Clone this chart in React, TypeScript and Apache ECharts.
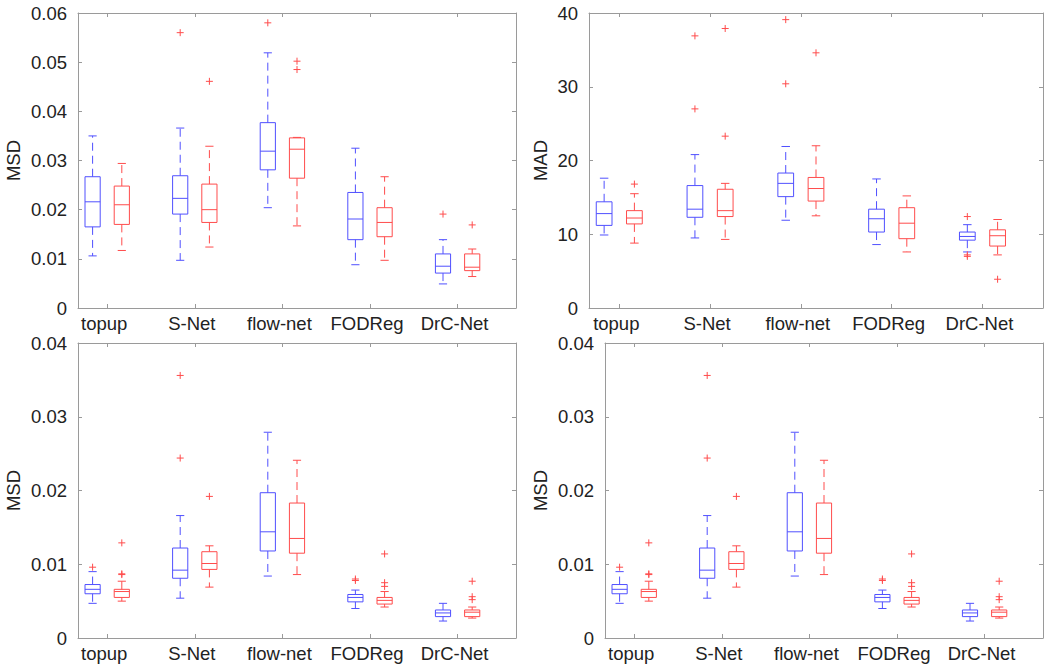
import React, { useEffect, useRef } from 'react';
import * as echarts from 'echarts';

const categories = ['topup', 'S-Net', 'flow-net', 'FODReg', 'DrC-Net'];

// Each box: [lower whisker, Q1, median, Q3, upper whisker]
const msdTopBlue = [
  [0.0106, 0.0165, 0.0216, 0.0267, 0.035],
  [0.0097, 0.0191, 0.0223, 0.0269, 0.0366],
  [0.0204, 0.0281, 0.0319, 0.0377, 0.0519],
  [0.0088, 0.0139, 0.0181, 0.0235, 0.0325],
  [0.0049, 0.0071, 0.0085, 0.011, 0.0139],
];
const msdTopRed = [
  [0.0117, 0.017, 0.021, 0.0248, 0.0294],
  [0.0124, 0.0174, 0.02, 0.0252, 0.0329],
  [0.0167, 0.0264, 0.0323, 0.0346, 0.0347],
  [0.0097, 0.0145, 0.0174, 0.0204, 0.0267],
  [0.0064, 0.0076, 0.0083, 0.011, 0.012],
];
// Outliers: [category index, value]
const msdTopBlueOutliers = [[1, 0.056], [2, 0.058], [4, 0.0191]];
const msdTopRedOutliers = [[1, 0.0461], [2, 0.0502], [2, 0.0485], [4, 0.0169]];

const madBlue = [
  [9.9, 11.2, 12.8, 14.4, 17.6],
  [9.5, 12.3, 13.4, 16.6, 20.8],
  [11.9, 15.1, 16.9, 18.3, 21.9],
  [8.6, 10.3, 12.1, 13.4, 17.5],
  [7.6, 9.2, 9.7, 10.3, 11.3],
];
const madRed = [
  [8.8, 11.4, 12.2, 13.2, 15.5],
  [9.3, 12.4, 13.2, 16.1, 16.9],
  [12.5, 14.5, 16.2, 17.7, 22.0],
  [7.6, 9.4, 11.5, 13.6, 15.2],
  [7.2, 8.4, 9.8, 10.6, 12.0],
];
const madBlueOutliers = [[1, 36.9], [1, 27.0], [2, 39.1], [2, 30.4], [4, 12.4], [4, 7.2], [4, 7.0]];
const madRedOutliers = [[0, 16.8], [1, 37.9], [1, 23.3], [2, 34.6], [4, 3.9]];

const msdBottomBlue = [
  [0.0047, 0.006, 0.0066, 0.00725, 0.009],
  [0.0054, 0.0081, 0.0092, 0.0122, 0.0166],
  [0.0084, 0.0118, 0.0144, 0.0197, 0.0279],
  [0.004, 0.0049, 0.0055, 0.0059, 0.0065],
  [0.0023, 0.0029, 0.0034, 0.0038, 0.0047],
];
const msdBottomRed = [
  [0.005, 0.0055, 0.0063, 0.0066, 0.0077],
  [0.0069, 0.0093, 0.0101, 0.0117, 0.0125],
  [0.0086, 0.0115, 0.0135, 0.0183, 0.0241],
  [0.0042, 0.0046, 0.0051, 0.0055, 0.0063],
  [0.0027, 0.0029, 0.0035, 0.0038, 0.0042],
];
const msdBottomBlueOutliers = [[0, 0.0096], [1, 0.0356], [1, 0.0244], [3, 0.008], [3, 0.0078]];
const msdBottomRedOutliers = [
  [0, 0.0129], [0, 0.0087], [0, 0.0086], [1, 0.0192],
  [3, 0.0114], [3, 0.0075], [3, 0.007], [4, 0.0077], [4, 0.0056], [4, 0.0052],
];

const yTicksMsdTop = { max: 0.06, interval: 0.01 };
const yTicksMad = { max: 40, interval: 10 };
const yTicksMsdBottom = { max: 0.04, interval: 0.01 };

const BLUE = '#5050ff';
const RED = '#ff4c4c';
const FRAME = '#9a9a9a';
const TEXT = '#222222';
const FONT = 'Liberation Sans, Arial, Helvetica, sans-serif';
const BOX_W = 0.52;
const CAP_W = 0.28;
const tickPos = categories.map((_, i) => 1.5 + 3 * i);

function boxSeries(idx: number, boxes: number[][], offset: number, color: string) {
  return {
    type: 'custom',
    xAxisIndex: idx * 2,
    yAxisIndex: idx * 2,
    silent: true,
    data: boxes.map((b, i) => [offset + 3 * i, ...b]),
    encode: { x: 0, y: [1, 2, 3, 4, 5] },
    renderItem: (params: any, api: any) => {
      const x = api.value(0);
      const pLo = api.coord([x, api.value(1)]);
      const pQ1 = api.coord([x, api.value(2)]);
      const pMed = api.coord([x, api.value(3)]);
      const pQ3 = api.coord([x, api.value(4)]);
      const pHi = api.coord([x, api.value(5)]);
      const hb = api.size([BOX_W, 0])[0] / 2;
      const hc = api.size([CAP_W, 0])[0] / 2;
      const cx = pMed[0];
      const solid = { stroke: color, lineWidth: 1, fill: 'none' };
      const dashed = { stroke: color, lineWidth: 1, lineDash: [8, 5] };
      return {
        type: 'group',
        children: [
          { type: 'line', shape: { x1: cx, y1: pQ3[1], x2: cx, y2: pHi[1] }, style: dashed },
          { type: 'line', shape: { x1: cx, y1: pQ1[1], x2: cx, y2: pLo[1] }, style: dashed },
          { type: 'line', shape: { x1: cx - hc, y1: pHi[1], x2: cx + hc, y2: pHi[1] }, style: solid },
          { type: 'line', shape: { x1: cx - hc, y1: pLo[1], x2: cx + hc, y2: pLo[1] }, style: solid },
          {
            type: 'rect',
            shape: { x: cx - hb, y: pQ3[1], width: hb * 2, height: pQ1[1] - pQ3[1] },
            style: solid,
          },
          { type: 'line', shape: { x1: cx - hb, y1: pMed[1], x2: cx + hb, y2: pMed[1] }, style: solid },
        ],
      };
    },
  };
}

function outlierSeries(idx: number, pts: number[][], offset: number) {
  return {
    type: 'custom',
    xAxisIndex: idx * 2,
    yAxisIndex: idx * 2,
    silent: true,
    data: pts.map(([c, v]) => [offset + 3 * c, v]),
    encode: { x: 0, y: 1 },
    renderItem: (params: any, api: any) => {
      const p = api.coord([api.value(0), api.value(1)]);
      const st = { stroke: RED, lineWidth: 1 };
      return {
        type: 'group',
        children: [
          { type: 'line', shape: { x1: p[0] - 3.5, y1: p[1], x2: p[0] + 3.5, y2: p[1] }, style: st },
          { type: 'line', shape: { x1: p[0], y1: p[1] - 3.5, x2: p[0], y2: p[1] + 3.5 }, style: st },
        ],
      };
    },
  };
}

const panels = [
  { grid: { left: 78, top: 13, width: 438, height: 295 }, name: 'MSD', nameGap: 55, y: yTicksMsdTop,
    blue: msdTopBlue, red: msdTopRed, bo: msdTopBlueOutliers, ro: msdTopRedOutliers },
  { grid: { left: 589, top: 13, width: 454, height: 295 }, name: 'MAD', nameGap: 39, y: yTicksMad,
    blue: madBlue, red: madRed, bo: madBlueOutliers, ro: madRedOutliers },
  { grid: { left: 78, top: 343, width: 438, height: 295 }, name: 'MSD', nameGap: 55, y: yTicksMsdBottom,
    blue: msdBottomBlue, red: msdBottomRed, bo: msdBottomBlueOutliers, ro: msdBottomRedOutliers },
  { grid: { left: 605, top: 343, width: 438, height: 295 }, name: 'MSD', nameGap: 55, y: yTicksMsdBottom,
    blue: msdBottomBlue, red: msdBottomRed, bo: msdBottomBlueOutliers, ro: msdBottomRedOutliers },
];

function buildOption() {
  const lineStyle = { color: FRAME, width: 1 };
  const grid: any[] = [];
  const xAxis: any[] = [];
  const yAxis: any[] = [];
  const series: any[] = [];
  panels.forEach((p, i) => {
    grid.push({ ...p.grid, containLabel: false });
    xAxis.push({
      gridIndex: i, type: 'value', position: 'bottom', min: 0.5, max: 15.5,
      axisLine: { show: true, onZero: false, lineStyle },
      axisTick: { show: true, inside: true, length: 4, customValues: tickPos, lineStyle },
      axisLabel: {
        show: true, customValues: tickPos, margin: 6, color: TEXT, fontSize: 18.5, fontFamily: FONT,
        padding: [0, 6, 0, 0],
        formatter: (v: number) => categories[Math.round((v - 1.5) / 3)] ?? '',
      },
      splitLine: { show: false },
    });
    xAxis.push({
      gridIndex: i, type: 'value', position: 'top', min: 0.5, max: 15.5,
      axisLine: { show: true, onZero: false, lineStyle },
      axisTick: { show: true, inside: true, length: 4, customValues: tickPos, lineStyle },
      axisLabel: { show: false },
      splitLine: { show: false },
    });
    yAxis.push({
      gridIndex: i, type: 'value', position: 'left', min: 0, max: p.y.max, interval: p.y.interval,
      name: p.name, nameLocation: 'middle', nameGap: p.nameGap,
      nameTextStyle: { color: TEXT, fontSize: 18.5, fontFamily: FONT },
      axisLine: { show: true, onZero: false, lineStyle },
      axisTick: { show: true, inside: true, length: 4, lineStyle },
      axisLabel: { show: true, margin: 11, color: TEXT, fontSize: 18.5, fontFamily: FONT },
      splitLine: { show: false },
    });
    yAxis.push({
      gridIndex: i, type: 'value', position: 'right', min: 0, max: p.y.max, interval: p.y.interval,
      axisLine: { show: true, onZero: false, lineStyle },
      axisTick: { show: true, inside: true, length: 4, lineStyle },
      axisLabel: { show: false },
      splitLine: { show: false },
    });
    series.push(boxSeries(i, p.blue, 1, BLUE));
    series.push(boxSeries(i, p.red, 2, RED));
    series.push(outlierSeries(i, p.bo, 1));
    series.push(outlierSeries(i, p.ro, 2));
  });
  return { animation: false, backgroundColor: '#ffffff', grid, xAxis, yAxis, series };
}

export default function App() {
  const ref = useRef<HTMLDivElement>(null);
  useEffect(() => {
    if (!ref.current) return;
    const chart = echarts.init(ref.current, undefined, { renderer: 'svg' });
    chart.setOption(buildOption() as any);
    return () => chart.dispose();
  }, []);
  return (
    <div
      ref={ref}
      style={{ position: 'absolute', left: 0, top: 0, width: 1050, height: 669, background: '#fff' }}
    />
  );
}
